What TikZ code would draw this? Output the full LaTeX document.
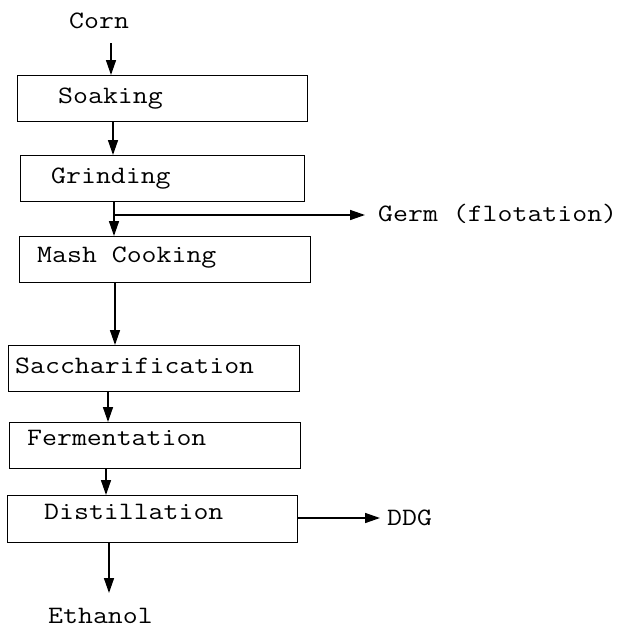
\documentclass[tikz,border=0pt]{standalone}
\usepackage{fontspec}
\setmonofont{Latin Modern Mono}[FakeStretch=1.16]
\usetikzlibrary{arrows.meta}
\begin{document}
\begin{tikzpicture}[x=1pt,y=-1pt,
  every node/.style={font=\ttfamily\fontsize{25}{30}\selectfont, inner sep=0pt},
  stage/.style={draw, line width=1.4pt, minimum height=46pt, anchor=north west},
  flow/.style={line width=1.5pt, -{Stealth[length=15pt,width=10pt,inset=0pt]}},
  tag/.style={anchor=base west}]
\useasboundingbox (0,0) rectangle (619,629);
% process stages
\node[stage, minimum width=290pt] (soak) at (17,75) {};
\node[stage, minimum width=284pt] (grind) at (20,155) {};
\node[stage, minimum width=291pt] (mash) at (19,236) {};
\node[stage, minimum width=291pt] (sacc) at (8,345) {};
\node[stage, minimum width=291pt] (ferm) at (9,422) {};
\node[stage, minimum width=290pt, minimum height=47pt] (dist) at (7,495) {};
% stage names
\node[tag] (tsoak) at (58,103) {Soaking};
\node[tag] (tgrind) at (51,183) {Grinding};
\node[tag] (tmash) at (37,262) {Mash Cooking};
\node[tag] (tsacc) at (15,373) {Saccharification};
\node[tag] (tferm) at (27,445) {Fermentation};
\node[tag] (tdist) at (44,519) {Distillation};
% inputs and products
\node[tag] (corn) at (69,28) {Corn};
\node[tag] (germ) at (378,221) {Germ (flotation)};
\node[tag] (ddg) at (387,525) {DDG};
\node[tag] (eth) at (48,623) {Ethanol};
% connectors
\coordinate (c0) at (111,43);
\draw[flow] (c0) -- (c0 |- soak.north);
\draw[flow] (113,121) -- (113,155);
\draw[flow] (114,201) -- (114,236);
\coordinate (split) at (114,215);
\draw[flow] (split) -- ([xshift=-13pt]germ.west |- split);
\draw[flow] (115,283) -- (115,345);
\draw[flow] (108,391) -- (108,422);
\draw[flow] (106,468) -- (106,495);
\coordinate (dd) at (297,518);
\draw[flow] (dd) -- ([xshift=-7pt]ddg.west |- dd);
\coordinate (ee) at (109,542);
\draw[flow] (ee) -- (109,593);
\end{tikzpicture}
\end{document}
